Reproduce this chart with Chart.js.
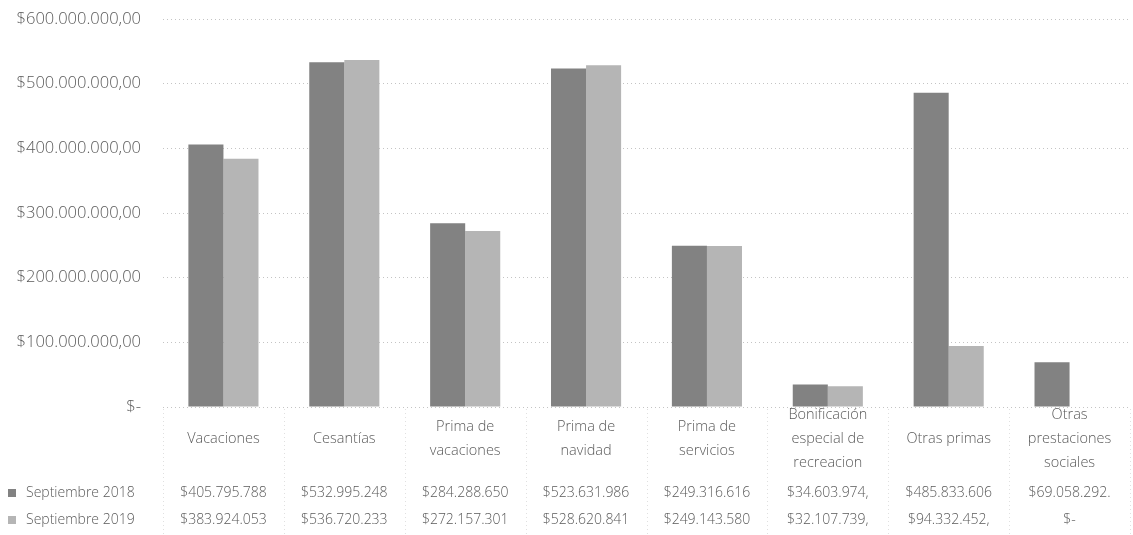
<!DOCTYPE html>
<html>
<head>
<meta charset="utf-8">
<script src="https://cdn.jsdelivr.net/npm/chart.js@4.4.1/dist/chart.umd.min.js"></script>
<style>
  html, body { margin: 0; padding: 0; background: #ffffff; }
  #wrap { width: 1133px; height: 535px; position: relative; }
</style>
</head>
<body>
<div id="wrap"><canvas id="c" width="1133" height="535"></canvas></div>
<script>
// Categories (multi-line labels as drawn in the data table)
const categories = [
  ['Vacaciones'],
  ['Cesantías'],
  ['Prima de', 'vacaciones'],
  ['Prima de', 'navidad'],
  ['Prima de', 'servicios'],
  ['Bonificación', 'especial de', 'recreacion'],
  ['Otras primas'],
  ['Otras', 'prestaciones', 'sociales']
];

const seriesNames = ['Septiembre 2018', 'Septiembre 2019'];

const sep2018 = [405795788, 532995248, 284288650, 523631986, 249316616, 34603974, 485833606, 69058292];
const sep2019 = [383924053, 536720233, 272157301, 528620841, 249143580, 32107739, 94332452, 0];

// trailing character left visible where a table cell is cut off
const cut2018 = ['', '', '', '', '', ',', '', '.'];
const cut2019 = ['', '', '', '', '', ',', ',', ''];

const yTicks = [0, 100000000, 200000000, 300000000, 400000000, 500000000, 600000000];

const colors = ['#828282', '#b5b5b5'];
const textColor = '#5a5a5a';
const fontFamily = '"Open Sans", "Noto Sans", sans-serif';

function money(v, decimals) {
  if (v === 0) return '$-';
  const int = Math.round(v).toString().replace(/\B(?=(\d{3})+(?!\d))/g, '.');
  return '$' + int + (decimals ? ',00' : '');
}

// Data table under the plot: category row, one row per series
const dataTable = {
  id: 'dataTable',
  afterDraw(chart) {
    const ctx = chart.ctx;
    const x = chart.scales.x;
    const area = chart.chartArea;
    const n = categories.length;
    const colW = (area.right - area.left) / n;
    ctx.save();

    // faint column separators
    ctx.strokeStyle = '#e0e0e0';
    ctx.lineWidth = 1;
    ctx.setLineDash([1, 3]);
    for (let i = 0; i <= n; i++) {
      const bx = Math.round(area.left + i * colW) + 0.5;
      ctx.beginPath();
      ctx.moveTo(bx, area.bottom + 2);
      ctx.lineTo(bx, 535);
      ctx.stroke();
    }
    ctx.setLineDash([]);

    ctx.fillStyle = textColor;
    ctx.font = '300 14.5px ' + fontFamily;
    ctx.textAlign = 'center';
    ctx.textBaseline = 'middle';
    const rowMid = 438.5, lh = 24;
    categories.forEach((lines, i) => {
      const cx = x.getPixelForValue(i);
      const y0 = rowMid - (lines.length - 1) * lh / 2;
      lines.forEach((t, k) => ctx.fillText(t, cx, y0 + k * lh));
    });

    ctx.font = '300 14px ' + fontFamily;
    const rows = [[sep2018, cut2018, 493], [sep2019, cut2019, 520]];
    rows.forEach(([vals, cut, yy], r) => {
      vals.forEach((v, i) => {
        const cx = x.getPixelForValue(i);
        ctx.fillText(money(v) + (v === 0 ? '' : cut[i]), cx, yy);
      });
      // legend key and series name
      ctx.fillStyle = colors[r];
      ctx.fillRect(8, yy - 4, 8, 8);
      ctx.fillStyle = textColor;
      ctx.textAlign = 'left';
      ctx.fillText(seriesNames[r], 26, yy);
      ctx.textAlign = 'center';
    });
    ctx.restore();
  }
};

new Chart(document.getElementById('c'), {
  type: 'bar',
  data: {
    labels: categories.map(l => l.join(' ')),
    datasets: [
      { label: seriesNames[0], data: sep2018, backgroundColor: colors[0] },
      { label: seriesNames[1], data: sep2019, backgroundColor: colors[1] }
    ]
  },
  options: {
    responsive: false,
    animation: false,
    layout: { padding: { top: 19, right: 3, bottom: 120, left: 0 } },
    plugins: { legend: { display: false }, tooltip: { enabled: false } },
    datasets: { bar: { categoryPercentage: 0.58, barPercentage: 1.0 } },
    scales: {
      x: {
        ticks: { display: false },
        grid: { display: false },
        border: { display: false }
      },
      y: {
        min: 0,
        max: 600000000,
        afterBuildTicks(scale) { scale.ticks = yTicks.map(v => ({ value: v })); },
        afterFit(scale) {
          scale.width = 163;
          scale.paddingTop = 0;
          scale.paddingBottom = 0;
        },
        ticks: {
          padding: 22,
          color: textColor,
          font: { family: fontFamily, size: 16.5, weight: '300' },
          callback: v => money(v, true)
        },
        grid: { color: '#c4c4c4', drawTicks: false, lineWidth: 1 },
        border: { display: false, dash: [1, 3] }
      }
    }
  },
  plugins: [dataTable]
});
</script>
</body>
</html>
